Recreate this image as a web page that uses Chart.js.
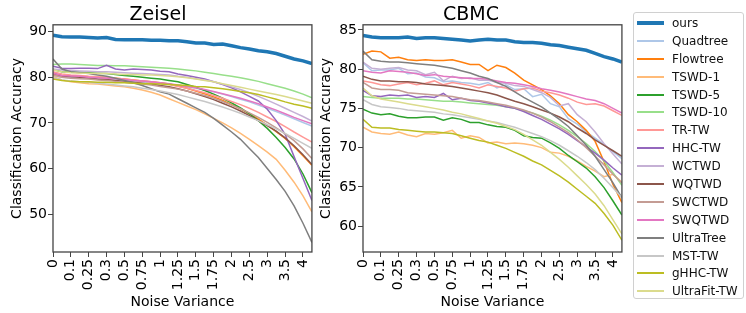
<!DOCTYPE html>
<html>
<head>
<meta charset="utf-8">
<script src="https://cdn.jsdelivr.net/npm/chart.js@4/dist/chart.umd.min.js"></script>
<style>
  body { margin: 0; background: #fff; width: 746px; height: 313px; overflow: hidden; position: relative; font-family: "DejaVu Sans", sans-serif; }
  canvas { position: absolute; top: 0; }
  #zeisel { left: 0; }
  #cbmc { left: 316px; }
  #legend { position: absolute; left: 633px; top: 12px; width: 111px; height: 287px; box-sizing: border-box;
            border: 1px solid #d0d0d0; border-radius: 3px; padding-top: 1px; background: #fff; }
  .row { height: 17.9px; display: flex; align-items: center; font-size: 12px; color: #111; white-space: nowrap; }
  .swatch { width: 27px; margin-left: 3px; margin-right: 8px; }
</style>
</head>
<body>
<canvas id="zeisel" width="322" height="313"></canvas>
<canvas id="cbmc" width="316" height="313"></canvas>
<div id="legend"></div>
<script>
// x positions are the index of each noise level, ticks label every other one
const xIdx = Array.from({length: 30}, (_, i) => i);
const tickLabels = ['0', '0.1', '0.25', '0.3', '0.5', '0.75', '1', '1.25', '1.5', '1.75', '2', '2.5', '3', '3.5', '4'];

const methods = ['ours', 'Quadtree', 'Flowtree', 'TSWD-1', 'TSWD-5', 'TSWD-10', 'TR-TW', 'HHC-TW',
                 'WCTWD', 'WQTWD', 'SWCTWD', 'SWQTWD', 'UltraTree', 'MST-TW', 'gHHC-TW', 'UltraFit-TW'];
const colors = ['#1f77b4', '#aec7e8', '#ff7f0e', '#ffbb78', '#2ca02c', '#98df8a', '#ff9896', '#9467bd',
                '#c5b0d5', '#8c564b', '#c49c94', '#e377c2', '#7f7f7f', '#c7c7c7', '#bcbd22', '#dbdb8d'];

// Zeisel
const z_ours      = [89.2,88.9,88.8,88.8,88.7,88.6,88.7,88.3,88.2,88.2,88.2,88.1,88.1,88.0,88.0,87.8,87.5,87.5,87.2,87.3,86.9,86.5,86.2,85.8,85.6,85.2,84.6,84.0,83.6,83.0];
const z_quadtree  = [80.3,80.0,79.9,79.8,79.7,79.6,79.5,79.4,79.3,79.1,79.0,78.9,78.7,78.5,78.2,77.9,77.6,77.2,76.8,76.3,75.8,75.2,74.6,73.9,73.2,72.5,71.7,70.9,70.1,69.3];
const z_flowtree  = [80.6,80.4,80.3,80.2,80.1,80.0,79.9,79.8,79.6,79.4,79.2,79.0,78.8,78.5,78.1,77.6,77.0,76.4,75.7,74.9,74.0,73.1,72.0,70.8,69.5,68.1,66.6,64.8,62.8,60.7];
const z_tswd1     = [80.2,79.4,79.0,78.8,78.6,78.5,78.3,78.1,77.9,77.6,77.2,76.7,76.1,75.3,74.5,73.7,72.9,72.0,71.0,70.0,68.9,67.7,66.4,65.0,63.6,62.0,59.6,57.0,54.0,50.5];
const z_tswd5     = [81.7,81.2,81.1,81.1,81.0,80.9,80.8,80.6,80.4,80.2,80.0,79.8,79.6,79.3,79.0,78.4,77.8,77.1,76.3,75.4,74.4,73.3,72.0,70.5,68.8,66.8,64.6,62.1,58.8,54.7];
const z_tswd10    = [82.8,82.9,82.9,82.8,82.7,82.6,82.6,82.5,82.5,82.4,82.3,82.2,82.1,82.0,81.8,81.6,81.4,81.1,80.8,80.5,80.2,79.9,79.5,79.1,78.6,78.1,77.6,77.0,76.3,75.5];
const z_trtw      = [81.2,80.7,80.5,80.4,80.2,80.1,80.0,79.8,79.6,79.4,79.2,79.0,78.7,78.4,78.0,77.6,77.1,76.6,76.0,75.4,74.7,74.0,73.2,72.3,71.3,70.3,69.2,68.0,66.9,65.8];
const z_hhctw     = [82.4,82.0,81.9,82.0,82.0,81.9,82.6,81.8,81.6,81.8,81.7,81.6,81.3,81.2,80.7,80.4,80.0,79.6,79.0,78.4,77.7,76.8,75.8,74.8,73.0,70.5,67.5,62.6,57.8,53.0];
const z_wctwd     = [81.8,81.6,81.5,81.4,81.3,81.2,81.2,81.1,81.0,80.9,80.8,80.7,80.6,80.5,80.2,80.0,79.7,79.4,79.0,78.5,77.9,77.3,76.6,75.8,75.0,74.1,73.2,72.3,71.4,70.4];
const z_wqtwd     = [80.9,80.3,80.1,80.0,79.8,79.6,79.5,79.3,79.1,78.9,78.7,78.5,78.2,77.9,77.5,77.0,76.4,75.8,75.1,74.3,73.5,72.6,71.6,70.5,69.4,68.2,66.7,65.0,63.0,60.9];
const z_swctwd    = [80.5,80.0,79.8,79.7,79.6,79.4,79.3,79.1,78.9,78.7,78.5,78.3,78.0,77.7,77.4,77.0,76.5,76.0,75.4,74.7,73.9,73.1,72.2,71.2,70.1,68.9,67.6,66.1,64.3,62.2];
const z_swqtwd    = [80.9,80.4,80.3,80.2,80.0,79.9,79.8,79.7,79.5,79.3,79.2,79.0,78.8,78.6,78.3,78.0,77.7,77.3,76.9,76.4,75.9,75.4,74.8,74.2,73.5,72.8,72.0,71.2,70.5,69.8];
const z_ultratree = [84.0,81.8,81.2,81.0,80.8,80.5,80.2,79.8,79.3,78.8,78.2,77.5,76.8,76.3,75.3,74.3,73.3,72.3,71.0,69.5,68.0,66.4,64.4,62.4,60.0,57.6,55.0,51.8,48.0,43.8];
const z_msttw     = [79.9,79.4,79.2,79.0,78.9,78.7,78.5,78.3,78.1,77.9,77.6,77.3,77.0,76.6,76.2,75.7,75.2,74.7,74.1,73.5,72.8,72.1,71.3,70.5,69.6,68.7,67.7,66.6,65.5,64.4];
const z_ghhctw    = [79.6,79.3,79.1,79.0,79.0,78.9,78.9,78.8,78.8,78.7,78.6,78.6,78.5,78.4,78.3,78.2,78.0,77.9,77.7,77.5,77.2,76.9,76.6,76.2,75.7,75.2,74.6,74.1,73.7,73.2];
const z_ultrafit  = [81.6,81.2,81.0,80.9,80.9,80.8,80.8,80.7,80.6,80.6,80.5,80.5,80.4,80.3,80.1,79.9,79.6,79.3,79.0,78.6,78.2,77.8,77.4,77.0,76.6,76.2,75.8,75.3,74.8,74.3];

// CBMC
const c_ours      = [84.3,84.1,84.0,84.0,84.0,84.1,83.9,84.0,84.0,83.9,83.8,83.7,83.6,83.7,83.8,83.7,83.7,83.5,83.4,83.4,83.3,83.1,83.0,82.8,82.6,82.4,82.0,81.6,81.3,80.9];
const c_quadtree  = [80.8,79.8,79.9,79.9,80.1,79.4,79.5,79.0,78.9,78.4,78.5,78.3,78.2,78.0,78.3,77.6,78.0,77.4,77.5,76.5,76.8,75.6,75.2,73.7,73.0,72.0,71.2,70.4,69.5,68.6];
const c_flowtree  = [81.9,82.3,82.2,81.4,81.5,81.2,81.1,81.2,81.1,81.1,81.2,80.9,80.6,80.6,79.8,80.5,80.2,79.5,78.6,78.0,77.4,76.6,75.6,74.2,73.3,72.2,70.8,68.2,65.3,63.0];
const c_tswd1     = [72.6,72.0,71.8,71.7,72.0,71.6,71.4,71.8,71.7,71.9,72.2,71.2,71.5,71.3,70.6,70.7,70.5,70.6,70.5,70.3,70.0,69.4,69.3,68.9,68.3,67.6,67.0,66.3,66.6,65.6];
const c_tswd5     = [74.9,74.4,74.2,74.3,74.0,73.8,73.8,73.9,73.9,73.5,73.8,73.6,73.2,73.2,72.9,72.7,72.6,72.2,71.5,71.3,71.2,70.6,69.9,69.0,68.2,67.4,66.3,64.9,63.2,61.4];
const c_tswd10    = [76.5,76.4,76.3,76.3,76.3,76.2,76.2,76.1,76.0,75.9,75.9,75.8,75.7,75.6,75.5,75.4,75.2,75.0,74.7,74.4,74.0,73.5,72.9,72.2,71.4,70.5,69.5,68.3,66.8,65.2];
const c_trtw      = [78.5,78.3,78.0,77.9,78.1,78.3,78.0,78.2,78.5,78.0,78.3,78.1,77.9,77.6,78.0,77.8,77.6,77.2,77.5,77.6,77.2,77.0,76.7,76.3,75.8,75.5,75.6,75.3,74.7,74.1];
const c_hhctw     = [77.3,76.6,76.5,76.7,76.6,76.7,76.4,76.5,76.4,76.9,76.1,76.3,76.0,75.9,75.7,75.5,75.2,75.0,74.6,74.1,73.6,73.0,72.4,71.7,70.9,70.1,69.3,68.4,67.4,66.5];
const c_wctwd     = [80.9,80.1,80.0,80.1,80.2,79.9,79.8,79.3,79.6,78.5,79.1,78.8,78.9,78.6,78.6,78.3,78.2,77.9,77.8,77.4,77.0,76.4,75.3,75.6,74.2,73.3,72.0,70.5,69.2,67.9];
const c_wqtwd     = [79.1,78.7,78.5,78.5,78.4,78.4,78.3,78.1,78.0,77.9,77.8,77.6,77.4,77.2,77.0,76.7,76.3,75.9,75.6,75.2,74.8,74.4,73.9,73.3,72.5,71.8,71.0,70.3,69.6,68.9];
const c_swctwd    = [78.3,77.6,77.4,77.4,77.3,77.0,76.9,76.8,76.7,76.6,76.5,76.3,76.1,76.0,75.8,75.6,75.4,75.1,74.8,74.4,73.9,73.3,72.6,71.9,71.0,70.0,68.9,67.8,66.6,65.5];
const c_swqtwd    = [79.8,79.6,79.5,79.8,79.7,79.6,79.4,79.2,79.3,79.1,79.0,78.9,78.8,78.8,78.7,78.5,78.3,78.2,78.0,77.8,77.5,77.3,77.1,76.8,76.5,76.2,76.0,75.6,75.0,74.4];
const c_ultratree = [82.3,81.2,81.0,80.9,80.9,80.8,80.7,80.6,80.5,80.3,80.1,79.8,79.5,79.1,78.8,78.3,77.8,77.1,76.4,75.8,75.2,74.4,73.6,72.7,71.5,70.3,68.9,67.2,65.5,63.6];
const c_msttw     = [76.1,75.5,75.2,75.1,75.0,74.8,74.7,74.6,74.5,74.3,74.2,74.0,73.8,73.6,73.4,73.2,72.9,72.6,72.2,71.8,71.4,70.9,70.3,69.6,68.9,68.1,67.2,66.1,64.9,63.6];
const c_ghhctw    = [73.6,72.6,72.5,72.5,72.3,72.2,72.1,72.0,72.0,71.9,71.8,71.5,71.2,70.9,70.7,70.3,69.9,69.4,68.9,68.3,67.8,67.1,66.4,65.6,64.7,63.8,62.9,61.6,60.1,58.2];
const c_ultrafit  = [77.6,76.6,76.2,76.0,75.8,75.6,75.4,75.2,75.0,74.8,74.5,74.3,74.0,73.7,73.4,73.1,72.7,72.3,71.7,71.0,70.3,69.4,68.5,67.5,66.4,65.3,64.1,62.6,60.8,59.0];

const zeiselSeries = [z_ours, z_quadtree, z_flowtree, z_tswd1, z_tswd5, z_tswd10, z_trtw, z_hhctw,
                      z_wctwd, z_wqtwd, z_swctwd, z_swqtwd, z_ultratree, z_msttw, z_ghhctw, z_ultrafit];
const cbmcSeries = [c_ours, c_quadtree, c_flowtree, c_tswd1, c_tswd5, c_tswd10, c_trtw, c_hhctw,
                    c_wctwd, c_wqtwd, c_swctwd, c_swqtwd, c_ultratree, c_msttw, c_ghhctw, c_ultrafit];

const zeiselTicks = [50, 60, 70, 80, 90];
const cbmcTicks = [60, 65, 70, 75, 80, 85];

const FONT = "'DejaVu Sans', sans-serif";
const AXIS = '#444';

// box round the plot area, matplotlib style
const frame = {
    id: 'frame',
    afterDraw(chart) {
        const a = chart.chartArea, ctx = chart.ctx;
        ctx.save();
        ctx.strokeStyle = AXIS;
        ctx.lineWidth = 1.3;
        ctx.strokeRect(a.left, a.top, a.right - a.left, a.bottom - a.top);
        ctx.restore();
    }
};

function makeChart(id, title, series, yMin, yMax, yTicks, yWidth, yTitlePad) {
    const datasets = series.map((vals, i) => ({
        label: methods[i],
        data: vals,
        borderColor: colors[i],
        backgroundColor: colors[i],
        borderWidth: i === 0 ? 3.5 : 1.5,
        pointRadius: 0,
        tension: 0,
        order: methods.length - i
    }));
    return new Chart(document.getElementById(id), {
        type: 'line',
        data: { labels: xIdx, datasets: datasets },
        options: {
            responsive: false,
            animation: false,
            events: [],
            layout: { padding: { right: 6 } },
            plugins: {
                legend: { display: false },
                tooltip: { enabled: false },
                title: {
                    display: true, text: title, color: '#000',
                    font: { family: FONT, size: 19, weight: 'normal' },
                    padding: { top: 4, bottom: -2 }
                }
            },
            scales: {
                x: {
                    type: 'linear', min: 0, max: 29,
                    afterBuildTicks: s => { s.ticks = tickLabels.map((_, k) => ({ value: k * 2 })); },
                    afterFit: s => { s.height = 61; },
                    grid: { drawOnChartArea: false, drawTicks: true, tickLength: 5, tickColor: AXIS },
                    border: { display: false },
                    ticks: {
                        autoSkip: false, minRotation: 90, maxRotation: 90, padding: 2, color: '#000',
                        font: { family: FONT, size: 14 },
                        callback: v => tickLabels[v / 2]
                    },
                    title: {
                        display: true, text: 'Noise Variance', color: '#000',
                        font: { family: FONT, size: 14 }, padding: { top: 0, bottom: 2 }
                    }
                },
                y: {
                    min: yMin, max: yMax,
                    afterBuildTicks: s => { s.ticks = yTicks.map(v => ({ value: v })); },
                    afterFit: s => { s.width = yWidth; },
                    grid: { drawOnChartArea: false, drawTicks: true, tickLength: 5, tickColor: AXIS },
                    border: { display: false },
                    ticks: { padding: 1, color: '#000', font: { family: FONT, size: 14 } },
                    title: {
                        display: true, text: 'Classification Accuracy', color: '#000',
                        font: { family: FONT, size: 14 }, padding: { top: yTitlePad, bottom: 0 }
                    }
                }
            }
        },
        plugins: [frame]
    });
}

makeChart('zeisel', 'Zeisel', zeiselSeries, 41.7, 91.5, zeiselTicks, 53, 8.6);
makeChart('cbmc', 'CBMC', cbmcSeries, 56.7, 85.65, cbmcTicks, 47, 1.6);

// legend box on the right
const legend = document.getElementById('legend');
methods.forEach((name, i) => {
    const row = document.createElement('div');
    row.className = 'row';
    const sw = document.createElement('div');
    sw.className = 'swatch';
    sw.style.borderTop = (i === 0 ? 4 : 2) + 'px solid ' + colors[i];
    const txt = document.createElement('span');
    txt.textContent = name;
    row.appendChild(sw);
    row.appendChild(txt);
    legend.appendChild(row);
});
</script>
</body>
</html>
